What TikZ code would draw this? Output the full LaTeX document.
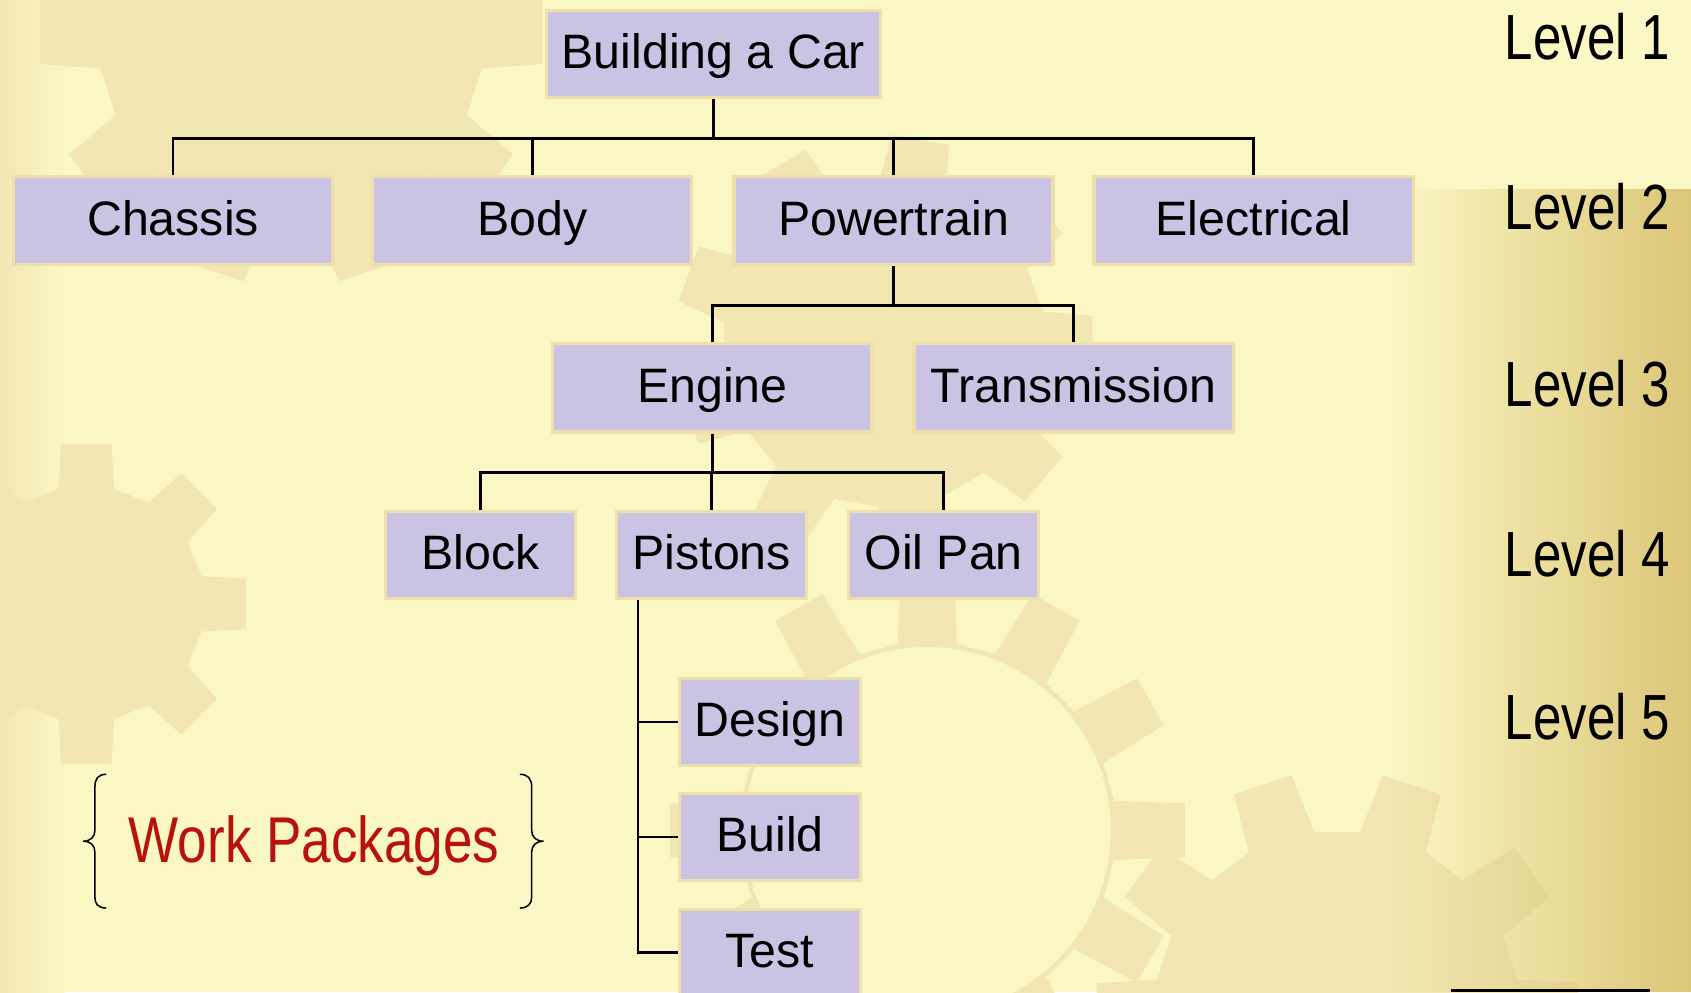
\documentclass[tikz,border=0pt]{standalone}
\usepackage{fontspec}
\usetikzlibrary{fadings}
\setmainfont{Liberation Sans}
\newfontfamily\narrowfont[FakeStretch=0.8]{Liberation Sans}
\newfontfamily\wpfont[FakeStretch=0.82]{Liberation Sans}
\definecolor{bg}{HTML}{FBF7C4}
\definecolor{gearc}{HTML}{F2E7B2}
\definecolor{gold}{HTML}{DCC678}
\definecolor{boxfill}{HTML}{CBC3E3}
\definecolor{boxedge}{HTML}{EEE0A8}
\definecolor{wpred}{HTML}{B8120C}
\tikzfading[name=goldfade, left color=transparent!100, right color=transparent!0]
\tikzfading[name=topfade, top color=transparent!100, bottom color=transparent!0]
\newcommand\mygear[5]{% cx, cy, rin, rout, teeth
  \begin{scope}[shift={(#1,#2)}]
    \pgfmathsetmacro\gs{360/#5}
    \fill[gearc] ({-0.3*\gs}:#3)
      \foreach \k in {0,...,#5} {
        -- ({\k*\gs-0.3*\gs}:#3) -- ({\k*\gs-0.2*\gs}:#4)
        -- ({\k*\gs+0.2*\gs}:#4) -- ({\k*\gs+0.3*\gs}:#3)
      } -- cycle;
  \end{scope}}
\tikzset{
  wbs/.style={draw=boxedge, line width=1.5pt, fill=boxfill, inner sep=0pt,
    text height=16pt, text depth=2.5pt,
    font=\fontsize{22.4pt}{26pt}\selectfont},
  lvtwo/.style={wbs, minimum width=148pt, minimum height=41pt},
  lvfour/.style={wbs, minimum width=88pt, minimum height=40.5pt},
  lvfive/.style={wbs, minimum width=84pt, minimum height=40.5pt},
  levellabel/.style={anchor=base west, inner sep=0pt,
    font=\narrowfont\fontsize{29.6pt}{34pt}\selectfont},
  conn/.style={draw=black, line width=1.25pt},
}
\begin{document}
\begin{tikzpicture}[x=0.5pt, y=-0.5pt]
\useasboundingbox (0,0) rectangle (1568,920);
\clip (0,0) rectangle (1568,920);
% background
\fill[bg] (0,0) rectangle (1568,920);
\fill[left color=gearc, right color=bg] (0,0) rectangle (60,920);
\mygear{270}{30}{180}{235}{10}
\mygear{820}{320}{150}{195}{9}
\mygear{1240}{940}{170}{225}{10}
\mygear{80}{560}{110}{150}{8}
\mygear{860}{770}{175}{240}{12}
\fill[bg] (860,770) circle (170);
\fill[gold, path fading=goldfade] (1290,175) rectangle (1568,920);

% nodes
\node[wbs, minimum width=155pt, minimum height=40.5pt] (car) at (661.5,50) {Building a Car};
\node[lvtwo] (chassis) at (160.5,204.5) {Chassis};
\node[lvtwo] (body) at (493.5,204.5) {Body};
\node[lvtwo] (power) at (828.5,204.5) {Powertrain};
\node[lvtwo] (elec) at (1162.5,204.5) {Electrical};
\node[lvtwo] (engine) at (660.5,359.5) {Engine};
\node[lvtwo] (trans) at (995.5,359.5) {Transmission};
\node[lvfour] (block) at (445.5,514.5) {Block};
\node[lvfour] (pistons) at (660,514.5) {Pistons};
\node[lvfour] (oilpan) at (875,514.5) {Oil Pan};
\node[lvfive] (design) at (714,669.5) {Design};
\node[lvfive] (build) at (714,776) {Build};
\node[lvfive] (test) at (714,883.5) {Test};

% connectors
\foreach \c in {chassis,body,power,elec}
  \draw[conn] (car.south) -- ++(0,36.5) -| (\c.north);
\foreach \c in {engine,trans}
  \draw[conn] (power.south) -- ++(0,36.5) -| (\c.north);
\foreach \c in {block,pistons,oilpan}
  \draw[conn] (engine.south) -- ++(0,36) -| (\c.north);
\coordinate (pst) at ([xshift=10.5pt]pistons.south west);
\foreach \c in {design,build,test}
  \draw[conn] (pst) |- (\c.west);

% level labels
\node[levellabel] (l1) at (1395,55) {Level 1};
\node[levellabel] (l2) at (1395,213) {Level 2};
\node[levellabel] (l3) at (1395,377) {Level 3};
\node[levellabel] (l4) at (1395,535) {Level 4};
\node[levellabel] (l5) at (1395,686) {Level 5};

% work packages
\node[anchor=base west, inner sep=0pt, text=wpred,
  font=\wpfont\fontsize{30pt}{34pt}\selectfont] (wp) at (119,800) {Work Packages};
\draw[line width=0.7pt] (98.5,718) .. controls (91,718) and (88,722) .. (88,730)
  -- (88,770) .. controls (88,776) and (84,780) .. (77,780)
  .. controls (84,780) and (88,784) .. (88,790) -- (88,832)
  .. controls (88,838) and (91,842) .. (98.5,842);
\draw[line width=0.7pt] (482,718) .. controls (489.5,718) and (493,722) .. (493,730)
  -- (493,770) .. controls (493,776) and (497,780) .. (504,780)
  .. controls (497,780) and (493,784) .. (493,790) -- (493,832)
  .. controls (493,838) and (489.5,842) .. (482,842);

% footer line
\draw[line width=1pt] (1345,918.5) -- (1530,918.5);
\end{tikzpicture}
\end{document}
